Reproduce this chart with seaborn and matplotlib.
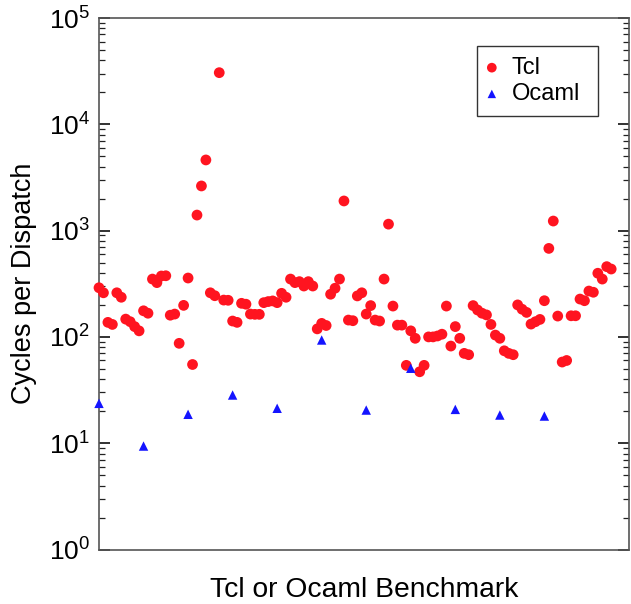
import numpy as np
import pandas as pd
import matplotlib
matplotlib.use('Agg')
import matplotlib.pyplot as plt
import seaborn as sns
from matplotlib.ticker import LogLocator, NullFormatter

# Cycles per dispatch for each Tcl benchmark (benchmark index 0..115)
tcl_cycles = [
    290, 260, 137, 131, 260, 236, 147, 139, 125, 114,
    176, 167, 350, 324, 374, 376, 160, 164, 87, 198,
    358, 55, 1400, 2630, 4620, 260, 244, 30600, 222, 221,
    141, 137, 207, 203, 164, 163, 163, 210, 215, 218,
    210, 257, 236, 350, 324, 331, 301, 331, 301, 119,
    134, 128, 252, 287, 350, 1900, 144, 142, 243, 260,
    164, 197, 144, 141, 350, 1150, 195, 129, 129, 54,
    114, 97, 47, 54, 100, 100, 102, 106, 195, 82,
    125, 97, 70, 68, 197, 179, 167, 161, 131, 104,
    97, 74, 70, 68, 200, 182, 170, 132, 139, 146,
    219, 680, 1230, 157, 58, 60, 158, 158, 227, 219,
    270, 263, 397, 350, 458, 435,
]
tcl_bench = list(range(len(tcl_cycles)))

# Cycles per dispatch for the Ocaml benchmarks
ocaml_cycles = [23.7, 9.4, 18.7, 28.4, 21.3, 93.5, 20.5, 50.7, 20.8, 18.4, 18.0]
ocaml_bench = [0, 10, 20, 30, 40, 50, 60, 70, 80, 90, 100]

y_label = "Cycles per Dispatch"
x_label = "Tcl or Ocaml Benchmark"

sns.set_theme(style='white')
plt.rcParams['font.family'] = ['Liberation Sans', 'DejaVu Sans']
plt.rcParams['mathtext.fontset'] = 'custom'
plt.rcParams['mathtext.rm'] = 'Liberation Sans'
plt.rcParams['mathtext.it'] = 'Liberation Sans:italic'
plt.rcParams['text.color'] = 'black'
plt.rcParams['axes.labelcolor'] = 'black'
plt.rcParams['ytick.labelcolor'] = 'black'

fig = plt.figure(figsize=(6.31, 6.04), dpi=100)
ax = fig.add_axes([99 / 631, 1 - 549.5 / 604, 530 / 631, 531.5 / 604])

df_tcl = pd.DataFrame({'bench': tcl_bench, 'cycles': tcl_cycles})
df_oc = pd.DataFrame({'bench': ocaml_bench, 'cycles': ocaml_cycles})

sns.scatterplot(data=df_tcl, x='bench', y='cycles', ax=ax, marker='o', s=60,
                color='#ff1420', edgecolor='none', linewidth=0, label='Tcl',
                clip_on=False, zorder=3)
sns.scatterplot(data=df_oc, x='bench', y='cycles', ax=ax, marker='^', s=46,
                color='#1414ff', edgecolor='none', linewidth=0, label='Ocaml',
                clip_on=False, zorder=4)

ax.set_yscale('log')
ax.set_ylim(1, 1e5)
ax.set_xlim(0, 119)
ax.yaxis.set_major_locator(LogLocator(base=10, numticks=20))
ax.yaxis.set_minor_locator(LogLocator(base=10, subs=np.arange(2, 10), numticks=100))
ax.yaxis.set_minor_formatter(NullFormatter())
ax.set_xticks([])

ax.tick_params(axis='y', which='both', direction='in', left=True, right=True,
               colors='#222222', labelcolor='black')
ax.tick_params(axis='y', which='major', length=8, width=1.3, labelsize=19, pad=6.5)
ax.tick_params(axis='y', which='minor', length=4, width=0.9)

for sp in ax.spines.values():
    sp.set_visible(True)
    sp.set_color('#555555')
    sp.set_linewidth(1.2)

ax.set_ylabel(y_label, fontsize=19.5, labelpad=8.5, color='black')
ax.set_xlabel(x_label, fontsize=20.3, labelpad=20, color='black')

leg_top = 1 - (46 - 18) / 531.5
leg = ax.legend(loc='upper right',
                bbox_to_anchor=((477.3 - 99) / 530, 0.5, (598.3 - 477.3) / 530, leg_top - 0.5),
                mode='expand', borderaxespad=0,
                frameon=True, fancybox=False, edgecolor='black', fontsize=17,
                handletextpad=0.69, borderpad=0.46, labelspacing=0.18,
                handlelength=0.31, markerscale=0.9)
leg.get_frame().set_linewidth(1.0)

fig.savefig('out.png', dpi=100)
